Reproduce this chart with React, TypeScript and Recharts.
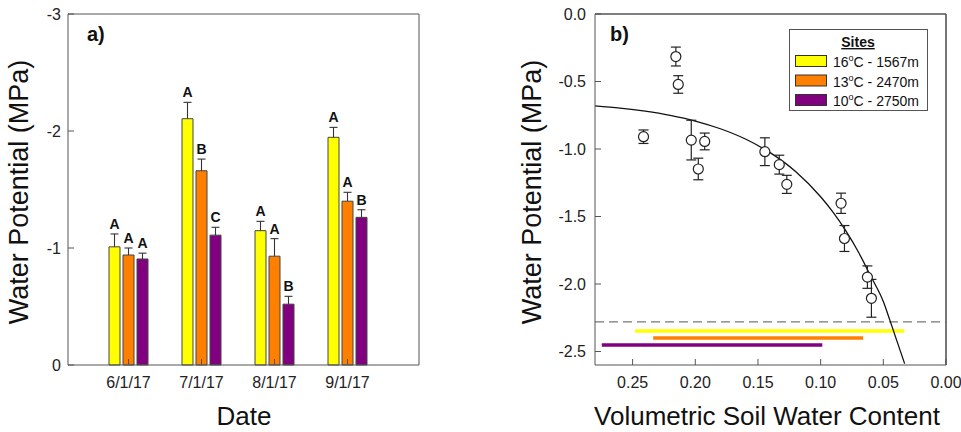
import React from 'react';
import {
  BarChart,
  Bar,
  XAxis,
  YAxis,
  ComposedChart,
  Line,
  Scatter,
  ErrorBar,
  ReferenceLine,
} from 'recharts';

const FONT = "Arial, 'Liberation Sans', Helvetica, sans-serif";
const AXIS = '#555';
const INK = '#222';

// ---------- panel a) ----------
const dates = ['6/1/17', '7/1/17', '8/1/17', '9/1/17'];
const wpWarm = [-1.01, -2.105, -1.148, -1.946];
const wpWarmErr = [0.11, 0.14, 0.08, 0.085];
const wpMid = [-0.94, -1.66, -0.93, -1.4];
const wpMidErr = [0.06, 0.1, 0.15, 0.076];
const wpCold = [-0.906, -1.11, -0.52, -1.262];
const wpColdErr = [0.05, 0.067, 0.067, 0.065];
const lettersWarm = ['A', 'A', 'A', 'A'];
const lettersMid = ['A', 'B', 'A', 'A'];
const lettersCold = ['A', 'C', 'B', 'B'];
const barTicks = [-3, -2, -1, 0];

// ---------- panel b) ----------
const swc = [0.2413, 0.2155, 0.2136, 0.2032, 0.1976, 0.1925, 0.1445, 0.133, 0.127, 0.0837, 0.081, 0.0627, 0.0595];
const swp = [-0.909, -0.315, -0.522, -0.934, -1.148, -0.944, -1.02, -1.116, -1.262, -1.402, -1.663, -1.949, -2.106];
const swpErr = [0.05, 0.07, 0.065, 0.147, 0.08, 0.062, 0.103, 0.07, 0.067, 0.075, 0.096, 0.083, 0.14];
const fitX = [0.28, 0.26, 0.24, 0.22, 0.2, 0.18, 0.16, 0.14, 0.12, 0.1, 0.09, 0.08, 0.07, 0.06, 0.05, 0.045, 0.04, 0.033];
const fitY = [-0.68, -0.697, -0.72, -0.751, -0.793, -0.85, -0.926, -1.029, -1.167, -1.354, -1.47, -1.605, -1.761, -1.943, -2.13, -2.262, -2.399, -2.59];
const threshold = -2.28;
const swcDomain = [0, 0.28];
const swpDomain = [-2.6, 0];
const swcTicks = [0.25, 0.2, 0.15, 0.1, 0.05, 0];
const swpTicks = [0, -0.5, -1, -1.5, -2, -2.5];

// sites
const siteTemps = ['16', '13', '10'];
const siteElev = ['1567m', '2470m', '2750m'];
const siteColors = ['#FFFF00', '#FF8000', '#800080'];
const rangeFrom = [0.248, 0.2336, 0.2746];
const rangeTo = [0.0333, 0.0661, 0.0987];
const rangeY = [-2.348, -2.4, -2.452];

const barData = dates.map((d, i) => ({
  date: d,
  w: wpWarm[i],
  wE: -wpWarmErr[i],
  wL: lettersWarm[i],
  m: wpMid[i],
  mE: -wpMidErr[i],
  mL: lettersMid[i],
  c: wpCold[i],
  cE: -wpColdErr[i],
  cL: lettersCold[i],
}));

const points = swc.map((x, i) => ({ x, y: swp[i], err: swpErr[i] }));
const fit = fitX.map((x, i) => ({ x, y: fitY[i] }));

const ErrShape = (props: any) => {
  const { x, y, width, height, letter } = props;
  if (x == null || y == null) return null;
  const top = Math.min(y, y + height);
  const bottom = Math.max(y, y + height);
  const cx = x + width / 2;
  return (
    <g>
      <line x1={cx} x2={cx} y1={bottom} y2={top} stroke="#333" strokeWidth={1.1} />
      <line x1={cx - 4} x2={cx + 4} y1={top} y2={top} stroke="#333" strokeWidth={1.1} />
      <text
        x={cx}
        y={top - 5}
        textAnchor="middle"
        fontFamily={FONT}
        fontWeight="bold"
        fontSize={14}
        fill="#111"
      >
        {letter}
      </text>
    </g>
  );
};

const Circle = (props: any) => {
  const { cx, cy } = props;
  if (cx == null || cy == null) return null;
  return <circle cx={cx} cy={cy} r={5} fill="#fff" stroke="#222" strokeWidth={1.2} />;
};

const tickStyle = { fontSize: 16, fill: INK, fontFamily: FONT };

function PanelA() {
  return (
    <BarChart
      width={480}
      height={432}
      data={barData}
      margin={{ top: 13, right: 60, left: 0, bottom: 0 }}
      barSize={11}
      barGap={3}
    >
      <XAxis
        dataKey="date"
        height={67}
        padding={{ left: 24, right: 35 }}
        tickSize={-6}
        tickMargin={18}
        stroke={AXIS}
        tick={tickStyle}
        interval={0}
      />
      <XAxis
        xAxisId="t"
        orientation="top"
        dataKey="date"
        height={1}
        padding={{ left: 24, right: 35 }}
        tickSize={-6}
        stroke={AXIS}
        tick={false}
        interval={0}
      />
      <YAxis
        type="number"
        domain={[-3, 0]}
        reversed
        ticks={barTicks}
        interval={0}
        width={68}
        tickSize={-6}
        tickMargin={13}
        stroke={AXIS}
        tick={tickStyle}
      />
      <YAxis
        yAxisId="r"
        orientation="right"
        type="number"
        domain={[-3, 0]}
        reversed
        ticks={barTicks}
        interval={0}
        width={1}
        tickSize={-6}
        stroke={AXIS}
        tick={false}
      />
      <Bar dataKey="w" stackId="w" fill={siteColors[0]} stroke="#444" strokeWidth={1} isAnimationActive={false} />
      <Bar
        dataKey="wE"
        stackId="w"
        fill="none"
        isAnimationActive={false}
        shape={(p: any) => <ErrShape {...p} letter={p.payload.wL} />}
      />
      <Bar dataKey="m" stackId="m" fill={siteColors[1]} stroke="#444" strokeWidth={1} isAnimationActive={false} />
      <Bar
        dataKey="mE"
        stackId="m"
        fill="none"
        isAnimationActive={false}
        shape={(p: any) => <ErrShape {...p} letter={p.payload.mL} />}
      />
      <Bar dataKey="c" stackId="c" fill={siteColors[2]} stroke="#444" strokeWidth={1} isAnimationActive={false} />
      <Bar
        dataKey="cE"
        stackId="c"
        fill="none"
        isAnimationActive={false}
        shape={(p: any) => <ErrShape {...p} letter={p.payload.cL} />}
      />
    </BarChart>
  );
}

function PanelB() {
  return (
    <ComposedChart
      width={481}
      height={432}
      data={points}
      margin={{ top: 13, right: 14, left: 0, bottom: 0 }}
    >
      <XAxis
        dataKey="x"
        type="number"
        domain={swcDomain}
        reversed
        ticks={swcTicks}
        interval={0}
        tickFormatter={(v: number) => v.toFixed(2)}
        height={67}
        tickSize={-6}
        tickMargin={18}
        stroke={AXIS}
        tick={tickStyle}
      />
      <XAxis
        xAxisId="t"
        orientation="top"
        dataKey="x"
        type="number"
        domain={swcDomain}
        allowDataOverflow
        reversed
        ticks={swcTicks}
        interval={0}
        height={1}
        tickSize={-6}
        stroke={AXIS}
        tick={false}
      />
      <YAxis
        type="number"
        domain={swpDomain}
        ticks={swpTicks}
        interval={0}
        tickFormatter={(v: number) => v.toFixed(1)}
        width={115}
        tickSize={-6}
        tickMargin={15}
        stroke={AXIS}
        tick={tickStyle}
      />
      <YAxis
        yAxisId="r"
        orientation="right"
        type="number"
        domain={swpDomain}
        allowDataOverflow
        ticks={swpTicks}
        interval={0}
        width={1}
        tickSize={-6}
        stroke={AXIS}
        tick={false}
      />
      {/* frame: top and right edges of the plot box, on the main axes */}
      <ReferenceLine y={swpDomain[1]} stroke={AXIS} strokeWidth={1.2} ifOverflow="extendDomain" />
      <ReferenceLine x={swcDomain[0]} stroke={AXIS} strokeWidth={1.2} ifOverflow="extendDomain" />
      <ReferenceLine y={threshold} stroke="#777" strokeWidth={1.2} strokeDasharray="9 5" />
      {siteColors.map((col, i) => (
        <ReferenceLine
          key={col}
          segment={[
            { x: rangeFrom[i], y: rangeY[i] },
            { x: rangeTo[i], y: rangeY[i] },
          ]}
          stroke={col}
          strokeWidth={3.5}
        />
      ))}
      <Line
        data={fit}
        dataKey="y"
        type="monotone"
        dot={false}
        stroke="#111"
        strokeWidth={1.3}
        isAnimationActive={false}
      />
      <Scatter data={points} dataKey="y" shape={<Circle />} isAnimationActive={false}>
        <ErrorBar dataKey="err" direction="y" width={5} stroke="#222" strokeWidth={1.2} />
      </Scatter>
    </ComposedChart>
  );
}

function Overlay() {
  const rowCenters = [61, 80.5, 100];
  return (
    <svg
      width={961}
      height={432}
      style={{ position: 'absolute', left: 0, top: 0, pointerEvents: 'none' }}
      fontFamily={FONT}
    >
      <text x={87} y={41} fontSize={20} fontWeight="bold" fill="#111">a)</text>
      <text x={610} y={41} fontSize={20} fontWeight="bold" fill="#111">b)</text>
      <text
        x={28}
        y={192}
        fontSize={27}
        fill="#111"
        textAnchor="middle"
        transform="rotate(-90 28 192)"
      >
        Water Potential (MPa)
      </text>
      <text
        x={541}
        y={192}
        fontSize={27}
        fill="#111"
        textAnchor="middle"
        transform="rotate(-90 541 192)"
      >
        Water Potential (MPa)
      </text>
      <text x={244} y={425} fontSize={26} fill="#111" textAnchor="middle">Date</text>
      <text x={767} y={425} fontSize={26} fill="#111" textAnchor="middle">
        Volumetric Soil Water Content
      </text>
      <rect x={789.5} y={29.5} width={138} height={81} fill="#fff" stroke={AXIS} strokeWidth={1} />
      <text x={858} y={47} fontSize={14} fontWeight="bold" textAnchor="middle" textDecoration="underline" fill="#111">
        Sites
      </text>
      {siteTemps.map((t, i) => (
        <g key={t}>
          <rect
            x={795.5}
            y={rowCenters[i] - 5.5}
            width={31}
            height={11}
            fill={siteColors[i]}
            stroke="#333"
            strokeWidth={1}
          />
          <text x={833} y={rowCenters[i] + 6} fontSize={14} fill="#111">
            <tspan>{t}</tspan>
            <tspan dy={-6} fontSize={9}>o</tspan>
            <tspan dy={6}>{`C - ${siteElev[i]}`}</tspan>
          </text>
        </g>
      ))}
    </svg>
  );
}

export default function App() {
  return (
    <div
      style={{
        position: 'absolute',
        left: 0,
        top: 0,
        width: 961,
        height: 432,
        background: '#fff',
        overflow: 'hidden',
        fontFamily: FONT,
      }}
    >
      <div style={{ position: 'absolute', left: 0, top: 0 }}>
        <PanelA />
      </div>
      <div style={{ position: 'absolute', left: 480, top: 0 }}>
        <PanelB />
      </div>
      <Overlay />
    </div>
  );
}
